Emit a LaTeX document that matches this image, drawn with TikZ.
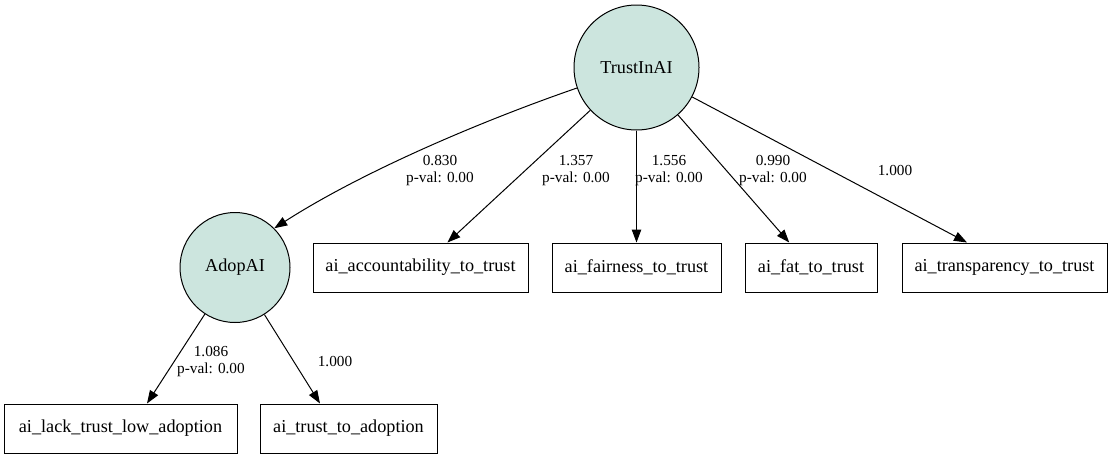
\documentclass[tikz,border=0pt]{standalone}
\usepackage{fontspec}
\setmainfont{Liberation Serif}
\usetikzlibrary{arrows.meta,calc}
\definecolor{latfill}{RGB}{204,229,222}
\tikzset{
  latent/.style={circle,draw,line width=1pt,fill=latfill,inner sep=0pt,font=\fontsize{18.2}{20}\selectfont},
  obsbox/.style={rectangle,draw,line width=1pt,inner sep=0pt,minimum height=49pt,font=\fontsize{18.2}{20}\selectfont},
  lbl/.style={align=center,inner sep=0pt,font=\fontsize{15.3}{17}\selectfont},
  conn/.style={line width=1pt,-{Triangle[length=13pt,width=9.5pt]}}
}
\begin{document}
\begin{tikzpicture}[x=1pt,y=-1pt]
\useasboundingbox (0,0) rectangle (1113,458);
\node[latent,minimum size=125pt] (t) at (636.5,67.5) {TrustInAI};
\node[latent,minimum size=110pt] (a) at (235,267.5) {AdopAI};
\node[obsbox,minimum width=215pt] (acc) at (420.5,267.5) {ai\_accountability\_to\_trust};
\node[obsbox,minimum width=169pt] (fair) at (636.5,267.5) {ai\_fairness\_to\_trust};
\node[obsbox,minimum width=132pt] (fat) at (811,267.5) {ai\_fat\_to\_trust};
\node[obsbox,minimum width=205pt] (tr) at (1004.5,267.5) {ai\_transparency\_to\_trust};
\node[obsbox,minimum width=233pt] (lack) at (120.5,428.5) {ai\_lack\_trust\_low\_adoption};
\node[obsbox,minimum width=177pt] (tta) at (348.5,428.5) {ai\_trust\_to\_adoption};

\draw[conn] (t.199) .. controls ($(t.199)+(-104,36)$) and ($(a.45)+(84,-54)$) .. (a.45);
\draw[conn] (t) -- (acc);
\draw[conn] (t) -- (fair);
\draw[conn] (t) -- (fat);
\draw[conn] (t) -- ([xshift=-37.5pt]tr.north);
\draw[conn] (a) -- ([xshift=26.5pt]lack.north);
\draw[conn] (a) -- ([xshift=-28.5pt]tta.north);

\node[lbl] (l1) at (440,170.5) {0.830\\p-val: 0.00};
\node[lbl] (l2) at (576,170.5) {1.357\\p-val: 0.00};
\node[lbl] (l3) at (669,170.5) {1.556\\p-val: 0.00};
\node[lbl] (l4) at (773,170.5) {0.990\\p-val: 0.00};
\node[lbl] (l5) at (895,171) {1.000};
\node[lbl] (l6) at (211,362) {1.086\\p-val: 0.00};
\node[lbl] (l7) at (335,362) {1.000};
\end{tikzpicture}
\end{document}
